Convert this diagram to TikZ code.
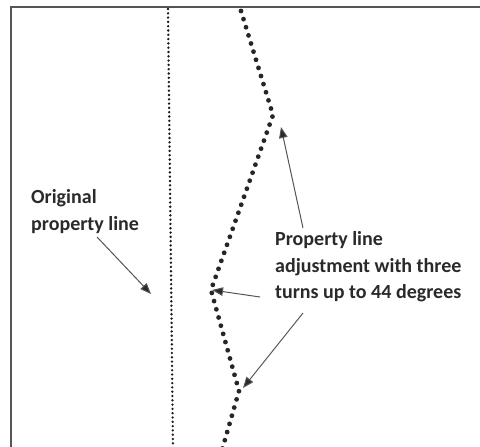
\documentclass[tikz,border=0pt]{standalone}
\usepackage{fontspec}
\setmainfont{Carlito}
\usetikzlibrary{arrows.meta}
\definecolor{ink}{HTML}{2A2A2A}
\definecolor{framec}{HTML}{555555}
\tikzset{
  lbl/.style={anchor=base west, inner sep=0pt, font=\bfseries\fontsize{20}{27}\selectfont, text=ink},
  origline/.style={draw=black!90, line width=2.6pt, line cap=round, dash pattern=on 0pt off 4.3pt},
  newline/.style={draw=black!85, line width=4.8pt, line cap=round, dash pattern=on 0pt off 8.5pt},
  pointer/.style={draw=framec, line width=1pt, -{Triangle[length=11pt,width=8.5pt,fill=ink]}},
  border/.style={draw=framec, line width=1.3pt}
}
\begin{document}
\begin{tikzpicture}[x=1pt,y=-1pt]
\useasboundingbox[fill=white] (0,0) rectangle (480,447);
% frame
\coordinate (bl) at (11,447);
\coordinate (tl) at (11,7);
\coordinate (tr) at (480,7);
\draw[border] (bl) -- (tl) -- (tr);
% original property line
\coordinate (o1) at (168,9);
\coordinate (o2) at (173,447);
\draw[origline] (o1) -- (o2);
% adjusted property line
\coordinate (z0) at (241,11);
\coordinate (z1) at (273,115);
\coordinate (z2) at (211,290);
\coordinate (z3) at (239,391);
\coordinate (z4) at (222,450);
\draw[newline] (z0) -- (z1) -- (z2) -- (z3) -- (z4);
% labels
\node[lbl] (orig1) at (31,203) {Original};
\node[lbl] (orig2) at (31,230) {property line};
\node[lbl] (adj1) at (275,245) {Property line};
\node[lbl] (adj2) at (275,272) {adjustment with three};
\node[lbl] (adj3) at (275,298) {turns up to 44 degrees};
% pointer ends
\coordinate (sO) at (97,237);
\coordinate (tO) at (151,294);
\coordinate (s1) at (303,228);
\coordinate (t1) at (281,127);
\coordinate (s2) at (260,297);
\coordinate (t2) at (212,290);
\coordinate (s3) at (303,313);
\coordinate (t3) at (243,388);
\draw[pointer] (sO) -- (tO);
\draw[pointer] (s1) -- (t1);
\draw[pointer] (s2) -- (t2);
\draw[pointer] (s3) -- (t3);
\end{tikzpicture}
\end{document}
